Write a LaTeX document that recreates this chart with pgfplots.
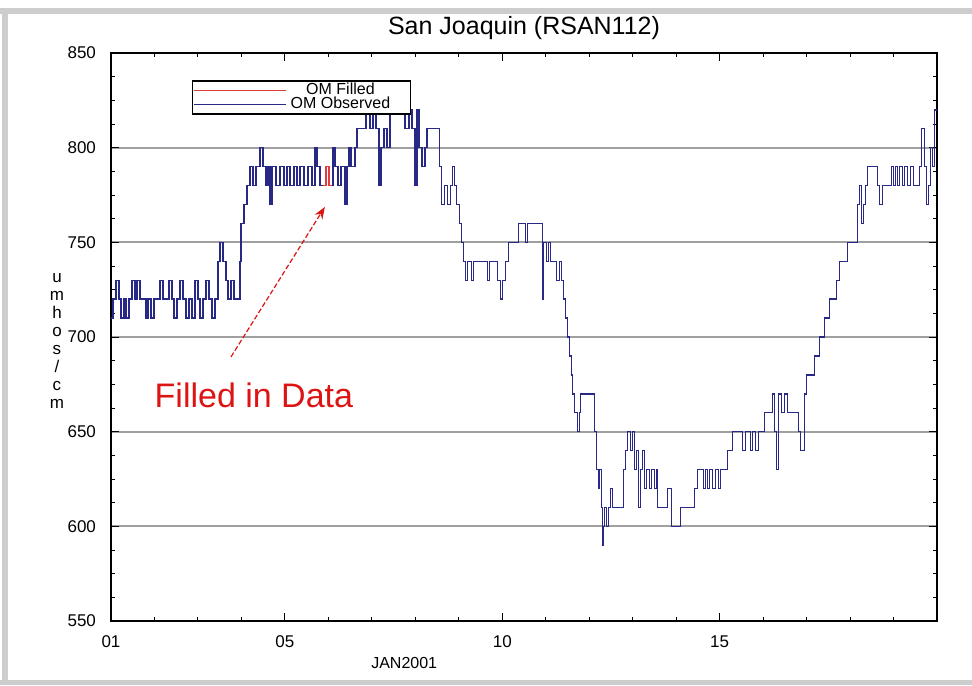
\documentclass[border=0pt]{standalone}
\usepackage{fontspec}
\setmainfont{Liberation Sans}
\usepackage{pgfplots}
\pgfplotsset{compat=1.18}
\usetikzlibrary{arrows.meta}
\definecolor{obsblue}{RGB}{40,40,135}
\definecolor{fillred}{RGB}{225,60,60}
\definecolor{annred}{RGB}{220,20,20}
\definecolor{gridgray}{RGB}{160,160,160}
\definecolor{framegray}{RGB}{205,205,205}

\pgfplotstableread{
day value
1.000 710
1.046 720
1.115 730
1.184 720
1.230 710
1.299 720
1.345 710
1.414 720
1.483 730
1.552 720
1.598 730
1.667 720
1.805 710
1.851 720
1.920 710
1.989 720
2.126 730
2.195 720
2.333 730
2.402 720
2.448 710
2.517 720
2.586 730
2.655 720
2.724 710
2.793 720
2.862 710
2.931 730
3.000 720
3.046 710
3.115 720
3.184 730
3.253 720
3.322 710
3.391 720
3.460 740
3.506 750
3.575 740
3.644 730
3.690 720
3.759 730
3.828 720
3.966 740
3.989 760
4.057 770
4.126 780
4.195 790
4.264 780
4.333 790
4.425 800
4.494 790
4.563 780
4.609 790
4.655 770
4.701 790
4.793 780
4.885 790
4.977 780
5.046 790
5.115 780
5.207 790
5.276 780
5.345 790
5.437 780
5.529 790
5.621 780
5.690 800
5.736 790
5.805 780
5.874 780
5.943 790
6.011 780
6.103 800
6.149 790
6.218 780
6.287 790
6.379 770
6.425 790
6.471 800
6.517 790
6.609 800
6.655 810
6.862 820
6.954 810
7.023 820
7.092 810
7.161 780
7.207 800
7.276 810
7.345 800
7.414 830
7.483 820
7.621 830
7.690 820
7.759 810
7.851 820
7.920 810
7.989 780
8.034 820
8.080 800
8.149 790
8.218 800
8.264 810
8.563 790
8.609 770
8.678 780
8.747 770
8.816 780
8.862 790
8.908 780
8.954 770
9.023 760
9.069 750
9.115 740
9.161 730
9.207 740
9.299 730
9.345 740
9.667 730
9.713 740
9.897 730
9.966 720
10.011 730
10.080 740
10.149 750
10.379 760
10.540 750
10.586 760
10.931 720
10.954 750
11.023 740
11.069 750
11.115 740
11.253 730
11.322 740
11.368 730
11.414 720
11.460 710
11.506 700
11.552 690
11.598 680
11.621 670
11.667 660
11.736 650
11.782 660
11.805 670
12.126 650
12.172 630
12.218 620
12.241 630
12.287 610
12.310 590
12.333 600
12.356 610
12.402 600
12.448 610
12.494 620
12.540 610
12.793 630
12.839 640
12.885 650
12.954 640
13.000 650
13.046 630
13.092 640
13.138 610
13.184 630
13.230 640
13.276 620
13.322 630
13.391 620
13.437 630
13.506 620
13.552 630
13.575 610
13.805 620
13.897 600
14.103 610
14.425 620
14.494 630
14.632 620
14.678 630
14.724 620
14.770 630
14.839 620
14.908 630
14.977 620
15.023 630
15.184 640
15.299 650
15.529 640
15.598 650
15.713 640
15.759 650
15.828 640
15.897 650
16.034 660
16.218 670
16.264 650
16.310 630
16.356 670
16.425 660
16.494 670
16.563 660
16.816 650
16.862 640
16.954 670
17.000 680
17.184 690
17.299 700
17.414 710
17.529 720
17.690 730
17.759 740
17.943 750
18.172 770
18.218 780
18.264 760
18.310 770
18.356 780
18.402 790
18.632 780
18.678 770
18.747 780
18.954 790
19.000 780
19.046 790
19.092 780
19.138 790
19.207 780
19.253 790
19.322 780
19.391 790
19.460 780
19.598 790
19.644 810
19.713 790
19.759 770
19.805 780
19.851 800
19.897 790
19.943 820
19.989 820
}\observed

\pgfplotstableread{
day value
5.874 780
5.943 790
6.011 780
6.080 780
}\filled

\begin{document}
\begin{tikzpicture}
\path (0pt,0pt) rectangle (486pt,342.5pt);
\fill[framegray] (0pt,335.5pt) rectangle (486pt,338.5pt);
\fill[framegray] (1pt,0pt) rectangle (4pt,338.5pt);
\fill[framegray] (0pt,0pt) rectangle (486pt,2.5pt);
\begin{axis}[
  at={(55.5pt,32pt)}, anchor=south west,
  scale only axis, width=413pt, height=284pt,
  xmin=1, xmax=20, ymin=550, ymax=850,
  xtick={1,5,10,15}, xticklabels={01,05,10,15},
  minor xtick={2,3,4,6,7,8,9,11,12,13,14,16,17,18,19},
  ytick={550,600,...,850},
  minor y tick num=3,
  tick align=inside,
  major tick length=4pt, minor tick length=2pt,
  ymajorgrids, major grid style={gridgray, line width=0.9pt},
  axis line style={line width=0.7pt},
  tick style={black, line width=0.5pt},
  ticklabel style={font=\fontsize{8.5}{10}\selectfont},
  /pgf/number format/assume math mode=true,
  yticklabel style={xshift=-4pt},
  xticklabel style={yshift=-4pt},
  title={San Joaquin (RSAN112)},
  title style={at={(0.5,1)}, anchor=base, yshift=3pt, inner sep=0pt, font=\fontsize{12.5}{14}\selectfont},
  xlabel={JAN2001},
  xlabel style={at={(0.355,0)}, anchor=center, yshift=-21pt, font=\fontsize{8}{9}\selectfont},
  ylabel={u\\m\\h\\o\\s\\/\\c\\m},
  ylabel style={at={(0,0.493)}, rotate=-90, anchor=center, xshift=-27pt, align=center, font=\fontsize{8.5}{9}\selectfont},
  legend style={at={(0.098,0.952)}, anchor=north west, draw=black, line width=0.7pt,
    font=\fontsize{8}{7}\selectfont, inner sep=0.5pt, row sep=-1.5pt,
    nodes={inner sep=0.6pt}},
  legend image code/.code={\draw[#1] (0pt,0pt) -- (46pt,0pt);},
  reverse legend,
]
\addplot[obsblue, line width=0.7pt, const plot] table[x=day, y=value] {\observed};
\addlegendentry{\makebox[52pt][c]{OM Observed}\hspace*{8pt}}
\addplot[fillred, line width=0.8pt, const plot] table[x=day, y=value] {\filled};
\addlegendentry{\makebox[52pt][c]{OM Filled}\hspace*{8pt}}
\node[annred, font=\fontsize{17}{20}\selectfont] at (axis cs:4.287,669.4) {Filled in Data};
\draw[annred, line width=0.6pt, dash pattern=on 2.5pt off 1.2pt, -{Stealth[length=6pt,width=4.5pt]}] (axis cs:3.76,689.5) -- (axis cs:5.92,768.7);
\end{axis}
\end{tikzpicture}
\end{document}
